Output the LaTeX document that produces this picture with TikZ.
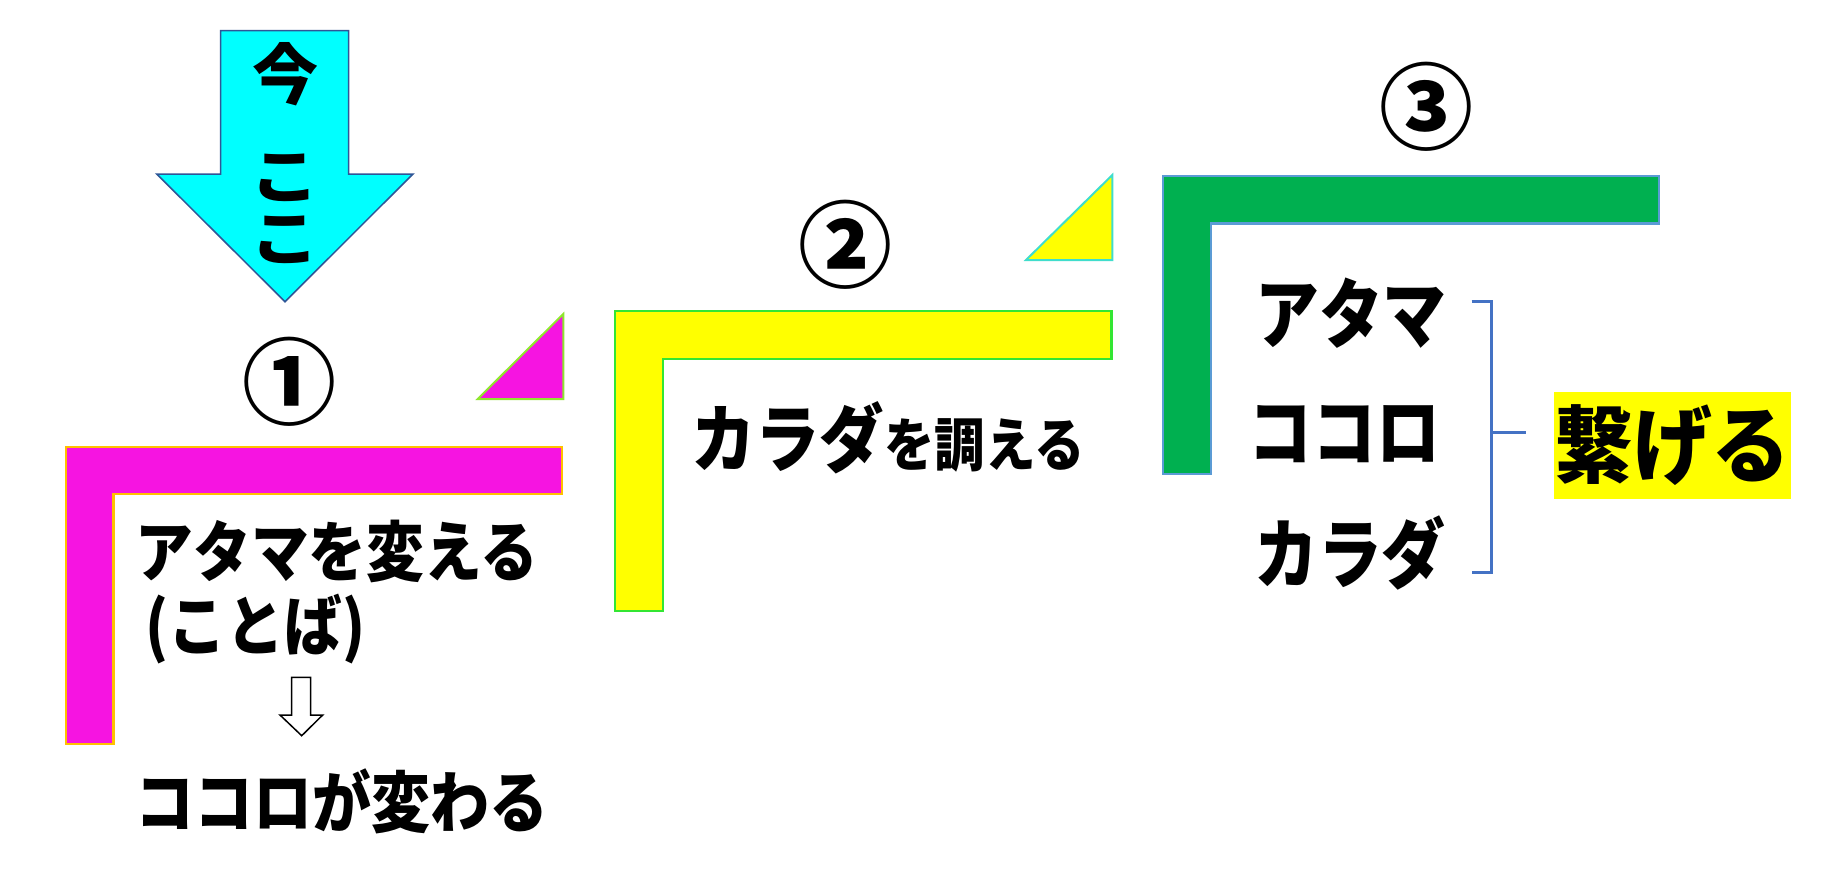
\documentclass[tikz,border=0pt]{standalone}
\usepackage{fontspec}
\newfontfamily\jp{Noto Sans CJK JP}
\definecolor{mag}{HTML}{F614E1}
\definecolor{magedge}{HTML}{FFC000}
\definecolor{trimag}{HTML}{8FE62E}
\definecolor{yel}{HTML}{FFFF00}
\definecolor{yeledge}{HTML}{33E633}
\definecolor{triyel}{HTML}{40DDCC}
\definecolor{grn}{HTML}{00B050}
\definecolor{grnedge}{HTML}{5B9BD5}
\definecolor{cyanf}{HTML}{00FFFF}
\definecolor{arrowedge}{HTML}{2F5597}
\definecolor{brk}{HTML}{4472C4}
\newcommand{\sq}[3]{\scalebox{#2}[1]{\jp\bfseries\fontsize{#1}{#1}\selectfont #3}}
\begin{document}
\begin{tikzpicture}[x=1pt,y=-1pt,
  tx/.style={inner sep=0pt, outer sep=0pt, text=black},
  lshape/.style={line width=2.2pt, line join=miter},
  tri/.style={line width=2pt, line join=miter}]
\useasboundingbox (0,0) rectangle (1839,889);
\fill[white] (0,0) rectangle (1839,889);

% cyan arrow
\filldraw[fill=cyanf, draw=arrowedge, line width=1.5pt]
  (220.7,30.7) -- (348.7,30.7) -- (348.7,174) -- (413,174) -- (285,301.7)
  -- (156.7,174) -- (220.7,174) -- cycle;
\node[tx] (ima) at (285,74) {\sq{66}{1}{今}};
\node[tx] (koko1) at (285,178) {\sq{60}{1.15}{こ}};
\node[tx] (koko2) at (285,240) {\sq{60}{1.15}{こ}};

% section 1
\filldraw[fill=mag, draw=magedge, lshape]
  (66,447) -- (562,447) -- (562,494) -- (113.5,494) -- (113.5,744.3) -- (66,744.3) -- cycle;
\filldraw[fill=mag, draw=trimag, tri]
  (477.7,399) -- (563.3,314) -- (563.3,399) -- cycle;
\node[tx] (n1) at (289,382) {\sq{94}{1}{①}};
\node[tx] (t1a) at (337,551) {\sq{66}{0.875}{アタマを変える}};
\node[tx] (t1b) at (255.5,629) {\sq{66}{0.875}{(ことば)}};
\filldraw[fill=white, draw=black, line width=1.5pt]
  (291.7,677.3) -- (310.7,677.3) -- (310.7,715) -- (322.7,715) -- (301.7,735.7)
  -- (280,715) -- (291.7,715) -- cycle;
\node[tx] (t1c) at (342,801.5) {\sq{67}{0.88}{ココロが変わる}};

% section 2
\filldraw[fill=yel, draw=yeledge, lshape]
  (614.7,311) -- (1111.5,311) -- (1111.5,359.3) -- (662.7,359.3) -- (662.7,611) -- (614.7,611) -- cycle;
\filldraw[fill=yel, draw=triyel, tri]
  (1026,260) -- (1112.3,175) -- (1112.3,260) -- cycle;
\node[tx] (n2) at (845,245) {\sq{94}{1}{②}};
\node[tx, anchor=base west] (t2) at (691,466.5)
  {\scalebox{0.87}[1]{\jp\bfseries\fontsize{74}{74}\selectfont カラダ\fontsize{58}{58}\selectfont を調える}};

% section 3
\filldraw[fill=grn, draw=grnedge, lshape]
  (1162.7,175.7) -- (1659,175.7) -- (1659,223.5) -- (1211,223.5) -- (1211,474) -- (1162.7,474) -- cycle;
\node[tx] (n3) at (1426,107) {\sq{94}{1}{③}};
\node[tx] (a3) at (1351,313) {\sq{76}{0.84}{アタマ}};
\node[tx] (k3) at (1344.5,434) {\sq{76}{0.84}{ココロ}};
\node[tx] (c3) at (1350,553) {\sq{76}{0.84}{カラダ}};

% bracket
\coordinate (bt) at (1471.7,301.7);
\coordinate (bb) at (1471.7,572.3);
\coordinate (bm) at (1491.7,432.3);
\coordinate (be) at (1525.7,432.3);
\draw[brk, line width=3pt] (bt) -- (1491.7,301.7) -- (1491.7,572.3) -- (bb);
\draw[brk, line width=3pt] (bm) -- (be);

\node[tx, fill=yel, minimum width=233pt, minimum height=107pt] (tsu) at (1672.5,445.5) {\sq{84}{0.94}{繋げる}};
\end{tikzpicture}
\end{document}
